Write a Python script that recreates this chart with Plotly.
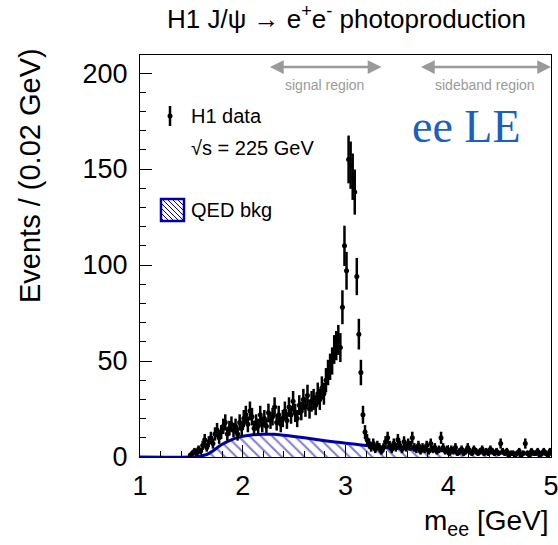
import numpy as np
import plotly.graph_objects as go

# ---------------- data ----------------
bin_start = 1.49      # centre of first non-empty bin [GeV]
bin_width = 0.02      # GeV
counts = [
    1, 2, 3, 2, 4, 3, 6, 9, 5, 8,
    10, 7, 12, 14, 10, 13, 16, 18, 12, 15,
    17, 14, 16, 12, 18, 15, 20, 22, 17, 24,
    21, 15, 18, 16, 22, 17, 20, 16, 23, 19,
    21, 26, 18, 22, 17, 20, 24, 19, 26, 22,
    29, 23, 20, 27, 24, 30, 26, 32, 25, 29,
    30, 27, 33, 30, 36, 33, 40, 44, 47, 50,
    56, 58, 61, 57, 78, 110, 97, 155, 152, 146,
    138, 94, 64, 44, 22, 13, 9, 7, 5, 7,
    4, 6, 5, 3, 5, 8, 10, 6, 4, 7,
    5, 9, 6, 4, 8, 5, 7, 6, 10, 5,
    4, 6, 3, 5, 4, 6, 3, 7, 4, 5,
    3, 4, 10, 5, 3, 4, 2, 4, 3, 5,
    2, 3, 4, 2, 3, 5, 3, 2, 4, 3,
    2, 3, 4, 2, 3, 2, 4, 3, 2, 3,
    2, 7, 3, 2, 3, 1, 2, 2, 1, 2,
    3, 1, 2, 7, 2, 1, 3, 2, 2, 3,
    1, 2, 3, 2, 1, 3,
]
qed_mass = [1.0, 1.5, 1.55, 1.6, 1.65, 1.7, 1.75, 1.8, 1.85, 1.9, 1.95, 2.0, 2.1,
            2.2, 2.3, 2.4, 2.5, 2.6, 2.7, 2.8, 2.9, 3.0, 3.1, 3.2, 3.3, 3.4, 3.5,
            3.6, 3.7, 3.8, 3.9, 4.0, 4.2, 4.4, 4.6, 4.8, 5.0]
qed_bkg = [0.0, 0.0, 0.2, 0.6, 1.3, 2.8, 4.8, 6.6, 8.0, 9.2, 10.1, 10.8, 11.6,
           11.9, 11.8, 11.3, 10.7, 10.0, 9.3, 8.5, 7.8, 7.2, 6.6, 6.0, 5.5, 5.0, 4.6,
           4.2, 3.9, 3.6, 3.3, 3.1, 2.7, 2.3, 2.0, 1.7, 1.5]
x_ticks = [1, 2, 3, 4, 5]
y_ticks = [0, 50, 100, 150, 200]
signal_region = [2.25, 3.35]
sideband_region = [3.72, 5.0]

centers = np.round(bin_start + bin_width * np.arange(len(counts)), 3)
counts_arr = np.array(counts, dtype=float)
errors = np.sqrt(counts_arr)

# ---------------- geometry ----------------
W, H = 558, 545
L, R, T, B = 140, 7, 55, 88
PW, PH = W - L - R, H - T - B
YMAX = 209.4
BLUE = "#0000a8"
GREY = "#9a9a9a"
FONT = "Liberation Sans, Arial, Helvetica, sans-serif"


def px(xp):
    return (xp - L) / PW


def py(yp):
    return (H - B - yp) / PH


fig = go.Figure()

fig.add_trace(go.Scatter(
    x=qed_mass, y=qed_bkg, mode="lines", line=dict(color=BLUE, width=3, shape="spline"),
    fill="tozeroy", fillcolor="rgba(0,0,0,0)",
    fillpattern=dict(shape="\\", fgcolor=BLUE, bgcolor="rgba(0,0,0,0)", size=8, solidity=0.26),
    showlegend=False, hoverinfo="skip"))

fig.add_trace(go.Scatter(
    x=centers, y=counts_arr, mode="markers",
    marker=dict(color="black", size=5),
    error_y=dict(type="data", array=errors, color="black", thickness=2.5, width=0),
    showlegend=False))

ann = []
shapes = []

# title
ann.append(dict(x=px(346), y=py(18), xref="paper", yref="paper", showarrow=False,
                text="H1 J/ψ → e<sup>+</sup>e<sup>-</sup> photoproduction",
                font=dict(size=26, color="black", family=FONT), xanchor="center", yanchor="middle"))
# axis titles
ann.append(dict(x=px(30), y=py(176), xref="paper", yref="paper", showarrow=False, textangle=-90,
                text="Events / (0.02 GeV)", font=dict(size=29, color="black", family=FONT),
                xanchor="center", yanchor="middle"))
ann.append(dict(x=1.0, y=py(522), xref="paper", yref="paper", showarrow=False,
                text="m<sub>ee</sub> [GeV]", font=dict(size=28, color="black", family=FONT),
                xanchor="right", yanchor="middle"))

# region arrows
y_arrow = (H - B - 67) / PH * YMAX
for (a, b), label in [(signal_region, "signal region"), (sideband_region, "sideband region")]:
    ann.append(dict(x=b, y=y_arrow, ax=a, ay=y_arrow, xref="x", yref="y", axref="x", ayref="y",
                    showarrow=True, arrowhead=2, startarrowhead=2, arrowside="end+start",
                    arrowsize=1.1, startarrowsize=1.1, arrowwidth=2.5, arrowcolor=GREY, text=""))
    ann.append(dict(x=(a + b) / 2, y=py(85), xref="x", yref="paper", showarrow=False, text=label,
                    font=dict(size=14, color=GREY, family=FONT), xanchor="center", yanchor="middle"))

# legend
ann.append(dict(x=px(189), y=py(116), xref="paper", yref="paper", showarrow=False, text="H1 data",
                font=dict(size=20, color="black", family=FONT), xanchor="left", yanchor="middle"))
ann.append(dict(x=px(189), y=py(148), xref="paper", yref="paper", showarrow=False, text="√s = 225 GeV",
                font=dict(size=20, color="black", family=FONT), xanchor="left", yanchor="middle"))
ann.append(dict(x=px(189), y=py(210), xref="paper", yref="paper", showarrow=False, text="QED bkg",
                font=dict(size=20, color="black", family=FONT), xanchor="left", yanchor="middle"))
ann.append(dict(x=px(466), y=py(127), xref="paper", yref="paper", showarrow=False, text="ee LE",
                font=dict(size=46, color="#1b5fc0", family="Liberation Serif, Times New Roman, serif"),
                xanchor="center", yanchor="middle"))

# legend marker for data
shapes.append(dict(type="line", xref="paper", yref="paper", x0=px(170), x1=px(170), y0=py(106), y1=py(126),
                   line=dict(color="black", width=2.5)))
shapes.append(dict(type="circle", xref="paper", yref="paper", x0=px(167.5), x1=px(172.5), y0=py(113.5), y1=py(118.5),
                   fillcolor="black", line=dict(color="black", width=0)))

# legend hatched box for QED bkg
bx0, by0, bx1, by1 = 161, 199, 184, 221
bw, bh = bx1 - bx0, by1 - by0
for c in range(-bh + 3, bw, 5):
    xs = max(0, c)
    xe = min(bw, bh + c)
    if xe <= xs:
        continue
    shapes.append(dict(type="line", xref="paper", yref="paper",
                       x0=px(bx0 + xs), y0=py(by0 + xs - c), x1=px(bx0 + xe), y1=py(by0 + xe - c),
                       line=dict(color=BLUE, width=1)))
shapes.append(dict(type="rect", xref="paper", yref="paper", x0=px(bx0), x1=px(bx1), y0=py(by0), y1=py(by1),
                   line=dict(color=BLUE, width=2.5), fillcolor="rgba(0,0,0,0)"))

fig.update_layout(
    width=W, height=H, margin=dict(l=L, r=R, t=T, b=B, autoexpand=False),
    paper_bgcolor="white", plot_bgcolor="white",
    font=dict(family=FONT, color="black"),
    annotations=ann, shapes=shapes, showlegend=False,
    xaxis=dict(range=[1, 5], tickvals=x_ticks, ticktext=[str(v) for v in x_ticks],
               ticks="inside", ticklen=12, tickwidth=1, tickcolor="black",
               minor=dict(ticks="inside", ticklen=6, dtick=0.2, tickcolor="black", tickwidth=1),
               showgrid=False, zeroline=False, showline=True, linecolor="black", linewidth=1,
               mirror=True, tickfont=dict(size=27, family=FONT, color="black"), ticklabelstandoff=5,
               ticklabeloverflow="allow", automargin=False),
    yaxis=dict(range=[0, YMAX], tickvals=y_ticks, ticktext=[str(v) for v in y_ticks],
               ticks="inside", ticklen=12, tickwidth=1, tickcolor="black",
               minor=dict(ticks="inside", ticklen=6, dtick=10, tickcolor="black", tickwidth=1),
               showgrid=False, zeroline=False, showline=True, linecolor="black", linewidth=1,
               mirror=True, tickfont=dict(size=27, family=FONT, color="black"), ticklabelstandoff=6,
               automargin=False),
)

fig.write_html("out.html")
